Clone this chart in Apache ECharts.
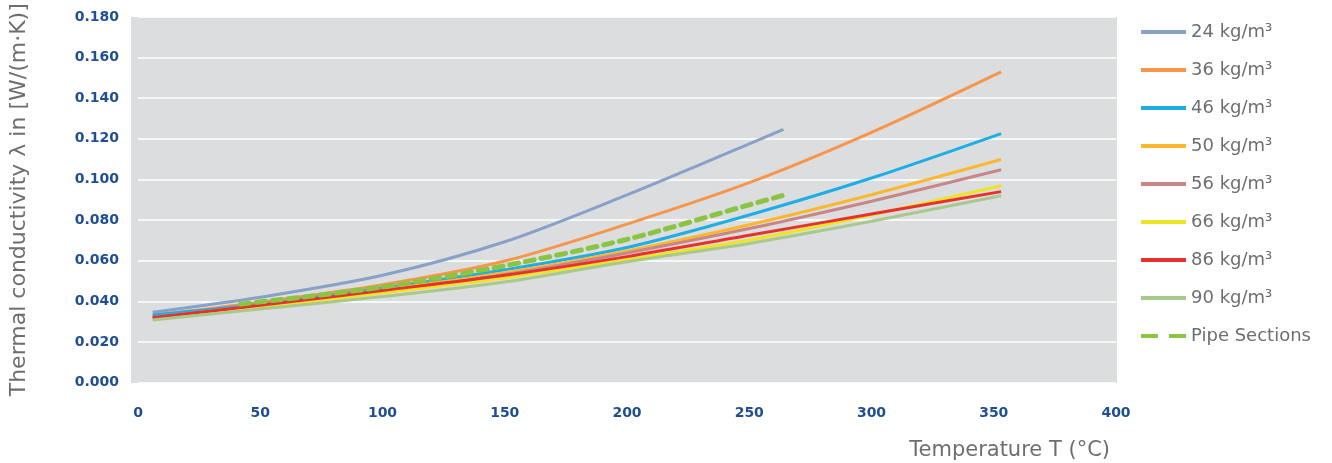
<!DOCTYPE html>
<html>
<head>
<meta charset="utf-8">
<script src="https://cdn.jsdelivr.net/npm/echarts@6/dist/echarts.min.js"></script>
<style>
html,body{margin:0;padding:0;background:#fff;}
#chart{width:1332px;height:463px;}
</style>
</head>
<body>
<div id="chart"></div>
<script>
// Temperatures (°C)
var temps = [6, 50, 100, 150, 200, 250, 300, 353];
var tempsShort = [6, 50, 100, 150, 200, 250, 264];
var tempsPipe = [42, 100, 150, 200, 250, 264];

// Thermal conductivity values W/(m·K)
var d24 = [0.0346, 0.042, 0.0528, 0.0693, 0.0924, 0.1175, 0.1246];
var d36 = [0.033, 0.0395, 0.0481, 0.0598, 0.078, 0.0984, 0.1232, 0.153];
var d46 = [0.0333, 0.0385, 0.0465, 0.0555, 0.0665, 0.0825, 0.1007, 0.1226];
var d50 = [0.032, 0.038, 0.0455, 0.054, 0.0648, 0.0777, 0.0925, 0.1098];
var d56 = [0.0318, 0.0378, 0.045, 0.0532, 0.0638, 0.0758, 0.0893, 0.1048];
var d66 = [0.031, 0.0368, 0.0442, 0.0515, 0.0606, 0.0702, 0.0825, 0.0969];
var d86 = [0.032, 0.038, 0.0453, 0.0528, 0.062, 0.0725, 0.0830, 0.094];
var d90 = [0.0308, 0.0362, 0.0423, 0.0495, 0.0595, 0.0685, 0.0794, 0.092];
var dPipe = [0.0386, 0.047, 0.0575, 0.0705, 0.0875, 0.0922];

var names = ['24 kg/m³', '36 kg/m³', '46 kg/m³', '50 kg/m³', '56 kg/m³', '66 kg/m³', '86 kg/m³', '90 kg/m³', 'Pipe Sections'];
var colors = ['#87a1c7', '#f7964a', '#1caee4', '#fbb82f', '#c88687', '#ebe526', '#e8302e', '#a7c98e', '#8bc443'];

function pairs(xs, ys) { return xs.map(function (x, i) { return [x, ys[i]]; }); }

var seriesData = [
  pairs(tempsShort, d24), pairs(temps, d36), pairs(temps, d46), pairs(temps, d50),
  pairs(temps, d56), pairs(temps, d66), pairs(temps, d86), pairs(temps, d90),
  pairs(tempsPipe, dPipe)
];

var series = seriesData.map(function (data, i) {
  var isPipe = i === 8;
  return {
    name: names[i],
    type: 'line',
    data: data,
    smooth: 0.3,
    showSymbol: false,
    symbol: 'none',
    z: isPipe ? 5 : 2,
    lineStyle: {
      color: colors[i],
      width: isPipe ? 5 : 3,
      type: isPipe ? [9, 7] : 'solid',
      cap: isPipe ? 'round' : 'butt'
    },
    itemStyle: { color: colors[i] }
  };
});

var chart = echarts.init(document.getElementById('chart'), null, { renderer: 'canvas' });
chart.setOption({
  animation: false,
  backgroundColor: '#ffffff',
  color: colors,
  graphic: [{
    type: 'rect',
    z: -10,
    silent: true,
    shape: { x: 131, y: 17, width: 986, height: 366 },
    style: { fill: '#dcdddf' }
  }],
  grid: { left: 136, right: 216, top: 17, bottom: 80.5, show: false },
  legend: {
    orient: 'vertical',
    left: 1136,
    top: 17,
    itemWidth: 45,
    itemHeight: 14,
    itemGap: 18,
    icon: 'path://M0,0 L45,0 L45,4 L0,4 Z',
    data: names.slice(0, 8).map(function (n) { return { name: n }; }).concat([{
      name: 'Pipe Sections',
      icon: 'path://M0,0 L17,0 L17,4 L0,4 Z M28,0 L45,0 L45,4 L28,4 Z'
    }]),
    textStyle: { color: '#6d6e71', fontSize: 18, lineHeight: 20, fontFamily: 'DejaVu Sans' }
  },
  xAxis: {
    type: 'value',
    min: 0, max: 400, interval: 50,
    axisLine: { show: false },
    axisTick: { show: false },
    splitLine: { show: false },
    axisLabel: { color: '#1f4e96', fontWeight: 'bold', fontSize: 14, fontFamily: 'DejaVu Sans', margin: 24 },
    name: 'Temperature T (°C)',
    nameLocation: 'end',
    nameGap: -6,
    nameTextStyle: { color: '#6d6e71', fontSize: 21, fontFamily: 'DejaVu Sans', align: 'right', verticalAlign: 'top', padding: [58, 0, 0, 0] }
  },
  yAxis: {
    type: 'value',
    min: 0, max: 0.18, interval: 0.02,
    axisLine: { show: false },
    axisTick: { show: false },
    splitLine: { show: true, lineStyle: { color: '#ffffff', width: 1.5 } },
    axisLabel: {
      color: '#1f4e96', fontWeight: 'bold', fontSize: 14, fontFamily: 'DejaVu Sans', margin: 19,
      formatter: function (v) { return v.toFixed(3); }
    },
    name: 'Thermal conductivity λ in [W/(m·K)]',
    nameLocation: 'middle',
    nameGap: 108,
    nameTextStyle: { color: '#6d6e71', fontSize: 22, fontFamily: 'DejaVu Sans' }
  },
  series: series
});
</script>
</body>
</html>
